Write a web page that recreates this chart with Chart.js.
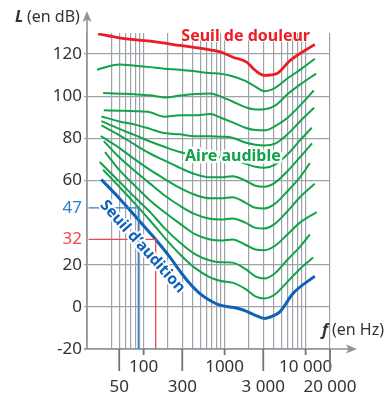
<!DOCTYPE html>
<html>
<head>
<meta charset="utf-8">
<script src="https://cdn.jsdelivr.net/npm/chart.js@4.4.1/dist/chart.umd.min.js"></script>
<style>
  html, body { margin: 0; padding: 0; background: #fff; }
  canvas { display: block; }
</style>
</head>
<body>
<canvas id="chart" width="389" height="396"></canvas>
<script>
// Courbes d'égale sensation sonore (niveau L en dB en fonction de la fréquence f en Hz)

// --- axes -------------------------------------------------------------------
const X_GRID = [20, 40, 50, 60, 70, 80, 90, 100, 200, 300, 400, 500, 600, 700, 800, 900,
                1000, 2000, 3000, 4000, 5000, 6000, 7000, 8000, 9000, 10000, 20000];
const X_TOP_TICKS = [100, 1000, 10000];
const X_TOP_TEXT = ["100", "1000", "10 000"];
const X_BOTTOM_TICKS = [50, 300, 3000, 20000];
const X_BOTTOM_TEXT = ["50", "300", "3 000", "20 000"];
const Y_GRID = [-20, -10, 0, 10, 20, 30, 40, 50, 60, 70, 80, 90, 100, 110, 120, 130];
const Y_LABELED = [-20, 0, 20, 40, 60, 80, 100, 120];

// --- seuil de douleur (rouge) -------------------------------------------------
const PAIN_FREQS = [27.4, 50, 120, 280, 660, 900, 1270, 1870, 2400, 3100, 4400, 6400, 13000];
const PAIN_LEVELS = [129.6, 127.7, 126.1, 124.1, 122.0, 120.9, 118.5, 116.2, 112.2, 109.9, 110.7, 116.9, 124.6];

// --- seuil d'audition (bleu) --------------------------------------------------
const HEARING_FREQS = [30, 50, 78, 120, 141, 210, 300, 372, 495, 660, 875, 1300, 1700, 2400, 3100, 4000, 4800, 7000, 13000];
const HEARING_LEVELS = [60.5, 51.6, 43.2, 35.1, 32.0, 23.7, 15.5, 11.1, 6.3, 3.0, 0.8, -0.3, -1.5, -4.0, -5.5, -4.2, -2.4, 6.4, 14.6];

// --- courbes vertes (aire audible), de haut en bas ----------------------------
// premier point = GREEN_START_FREQS[i], dernier = GREEN_END_FREQS[i], entre les deux GREEN_FREQS
const GREEN_FREQS = [50, 78, 120, 180, 280, 430, 660, 900, 1250, 1800, 2400, 3100, 4200, 6000, 8500];
const GREEN_START_FREQS = [26.6, 31.6, 32.2, 30.1, 30.1, 30.1, 29.5, 32.2, 33.4, 28.7, 31.6];
const GREEN_END_FREQS = [13000, 13500, 12600, 12700, 11900, 12000, 11300, 13000, 13700, 11300, 12400];
const L110 = [112.6, 115.1, 114.5, 113.8, 113.0, 112.6, 111.8, 111.0, 110.6, 109.5, 107.3, 104.5, 102.4, 104.0, 108.5, 112.5, 117.8];
const L100 = [101.5, 101.2, 100.9, 100.4, 99.4, 100.3, 101.0, 101.3, 99.8, 97.5, 94.8, 93.7, 93.8, 95.5, 101.0, 105.5, 110.7];
const L90 = [93.3, 93.1, 92.9, 92.4, 90.3, 90.9, 90.9, 91.5, 89.8, 87.6, 85.0, 83.9, 83.8, 85.8, 89.8, 95.5, 102.7];
const L80 = [90.4, 88.0, 86.5, 84.5, 82.5, 81.9, 81.0, 81.0, 80.8, 80.3, 78.0, 77.0, 76.6, 77.5, 82.0, 88.0, 94.5];
const L70 = [88.2, 84.5, 81.5, 78.5, 76.0, 73.5, 71.8, 71.0, 71.0, 70.5, 68.0, 66.5, 66.0, 67.5, 72.5, 79.0, 85.0];
const L60 = [86.2, 81.5, 77.0, 72.8, 69.5, 66.0, 63.0, 61.5, 61.5, 62.0, 60.0, 57.5, 57.0, 59.0, 64.5, 71.0, 77.6];
const L50 = [81.1, 75.5, 70.0, 65.0, 60.8, 56.5, 53.2, 51.5, 51.5, 52.0, 49.5, 47.0, 46.7, 49.0, 55.0, 61.5, 68.2];
const L40 = [78.7, 71.0, 64.5, 58.5, 53.0, 48.0, 44.0, 41.8, 41.5, 42.0, 40.0, 37.5, 37.2, 39.5, 45.5, 52.0, 58.5];
const L30 = [73.5, 65.0, 57.5, 50.5, 45.0, 39.5, 34.5, 32.0, 31.5, 32.0, 29.5, 27.2, 26.9, 29.0, 34.5, 40.0, 45.0];
const L20 = [68.8, 59.5, 52.0, 45.0, 37.5, 30.5, 25.0, 22.0, 21.2, 21.0, 18.0, 14.5, 13.5, 16.0, 22.5, 28.5, 34.4];
const L10 = [65.1, 57.0, 49.0, 41.0, 33.0, 25.0, 18.5, 14.0, 12.3, 11.5, 8.5, 5.0, 4.0, 6.0, 12.0, 18.0, 23.4];
const GREEN_LEVELS = [L110, L100, L90, L80, L70, L60, L50, L40, L30, L20, L10];

// --- lectures : 47 dB (bleu) et 32 dB (rouge) ---------------------------------
const READ_BLUE = { f: 86, L: 47 };
const READ_RED = { f: 141, L: 32 };

const GRID_COLOR = "#9ea3a9";
const AXIS_COLOR = "#8e959c";
const TEXT_COLOR = "#333333";
const RED = "#ec1c24";
const GREEN = "#12a24b";
const BLUE = "#0f62b8";
const READ_BLUE_COLOR = "#2b7fd0";
const READ_RED_COLOR = "#f04652";
const FONT = "'Noto Sans', 'Open Sans', sans-serif";

Chart.defaults.font.family = FONT;

function curve(freqs, levels, color, width) {
    return {
        data: freqs.map((f, i) => ({ x: f, y: levels[i] })),
        borderColor: color,
        borderWidth: width,
        pointRadius: 0,
        cubicInterpolationMode: "monotone",
        fill: false,
    };
}

function readingLine(r, color) {
    return {
        data: [{ x: 20.9, y: r.L }, { x: r.f, y: r.L }, { x: r.f, y: -20 }],
        borderColor: color,
        borderWidth: 1.3,
        pointRadius: 0,
        tension: 0,
        fill: false,
    };
}

const datasets = [
    readingLine(READ_BLUE, READ_BLUE_COLOR),
    readingLine(READ_RED, READ_RED_COLOR),
    ...GREEN_LEVELS.map((levels, i) =>
        curve([GREEN_START_FREQS[i], ...GREEN_FREQS, GREEN_END_FREQS[i]], levels, GREEN, 2)),
    curve(PAIN_FREQS, PAIN_LEVELS, RED, 2.8),
    curve(HEARING_FREQS, HEARING_LEVELS, BLUE, 3),
];

// Axis lines with arrows, and the long / short tick marks under the frequency axis.
const axesPlugin = {
    id: "axes",
    beforeDatasetsDraw(chart) {
        const { ctx, chartArea: a, scales: { x } } = chart;
        ctx.save();
        ctx.strokeStyle = AXIS_COLOR;
        ctx.fillStyle = AXIS_COLOR;
        ctx.lineWidth = 1.6;
        ctx.beginPath();
        ctx.moveTo(a.left, a.bottom);
        ctx.lineTo(a.left, 19);
        ctx.moveTo(a.left - 3, a.bottom);
        ctx.lineTo(349, a.bottom);
        ctx.stroke();
        // arrow heads
        ctx.beginPath();
        ctx.moveTo(a.left, 11);
        ctx.lineTo(a.left + 4.5, 22);
        ctx.lineTo(a.left, 19.5);
        ctx.lineTo(a.left - 4.5, 22);
        ctx.closePath();
        ctx.fill();
        ctx.beginPath();
        ctx.moveTo(357, a.bottom);
        ctx.lineTo(346, a.bottom - 4.5);
        ctx.lineTo(348.5, a.bottom);
        ctx.lineTo(346, a.bottom + 4.5);
        ctx.closePath();
        ctx.fill();
        // ticks under the axis
        ctx.strokeStyle = "#707479";
        ctx.lineWidth = 1.8;
        ctx.beginPath();
        X_BOTTOM_TICKS.forEach((v) => {
            const px = x.getPixelForValue(v);
            ctx.moveTo(px, a.bottom);
            ctx.lineTo(px, a.bottom + 22);
        });
        X_TOP_TICKS.forEach((v) => {
            const px = x.getPixelForValue(v);
            ctx.moveTo(px, a.bottom);
            ctx.lineTo(px, a.bottom + 6);
        });
        ctx.stroke();
        ctx.restore();
    },
};

function haloText(ctx, text, px, py, color, font, angle, halo) {
    ctx.save();
    ctx.translate(px, py);
    ctx.rotate(angle || 0);
    ctx.font = font;
    ctx.textAlign = "center";
    ctx.textBaseline = "middle";
    ctx.lineJoin = "round";
    ctx.strokeStyle = "rgba(255,255,255,0.95)";
    ctx.lineWidth = halo;
    ctx.strokeText(text, 0, 0);
    ctx.fillStyle = color;
    ctx.fillText(text, 0, 0);
    ctx.restore();
}

// Curve names and axis titles.
const labelsPlugin = {
    id: "labels",
    afterDatasetsDraw(chart) {
        const { ctx, scales: { x, y } } = chart;
        haloText(ctx, "Seuil de douleur", x.getPixelForValue(1820), y.getPixelForValue(128.3),
            RED, `bold 16px ${FONT}`, 0, 2);
        haloText(ctx, "Aire audible", x.getPixelForValue(1265), y.getPixelForValue(71.4),
            GREEN, `bold 16px ${FONT}`, 0, 5);
        haloText(ctx, "Seuil d\u2019audition", x.getPixelForValue(97), y.getPixelForValue(28.6),
            BLUE, `bold 15.5px ${FONT}`, 48 * Math.PI / 180, 4);

        ctx.save();
        ctx.fillStyle = TEXT_COLOR;
        ctx.textBaseline = "alphabetic";
        ctx.textAlign = "left";
        ctx.font = `italic bold 16px ${FONT}`;
        ctx.fillText("L", 15, 22);
        ctx.fillText("f", 322, 335);
        ctx.font = `16px ${FONT}`;
        ctx.fillText("(en dB)", 27, 22);
        ctx.fillText("(en Hz)", 332, 335);
        ctx.restore();
    },
};

new Chart(document.getElementById("chart"), {
    type: "line",
    data: { datasets },
    options: {
        responsive: false,
        animation: false,
        layout: { padding: { top: 33, right: 59, left: 0, bottom: 0 } },
        plugins: { legend: { display: false }, tooltip: { enabled: false } },
        scales: {
            x: {
                type: "logarithmic",
                min: 20,
                max: 20000,
                afterFit: (scale) => { scale.height = 47; },
                afterBuildTicks: (scale) => { scale.ticks = X_GRID.map((v) => ({ value: v })); },
                border: { display: false },
                grid: { color: GRID_COLOR, lineWidth: 1.2, drawTicks: false },
                ticks: {
                    autoSkip: false,
                    maxRotation: 0,
                    padding: 8,
                    color: TEXT_COLOR,
                    font: { size: 17, lineHeight: 1.18 },
                    callback: (v) => {
                        const top = X_TOP_TICKS.indexOf(v);
                        if (top >= 0) return X_TOP_TEXT[top];
                        const bottom = X_BOTTOM_TICKS.indexOf(v);
                        if (bottom >= 0) return ["", X_BOTTOM_TEXT[bottom]];
                        return "";
                    },
                },
            },
            y: {
                type: "linear",
                min: -20,
                max: 130,
                afterFit: (scale) => { scale.width = 87; },
                afterBuildTicks: (scale) => {
                    scale.ticks = [...Y_GRID, READ_RED.L, READ_BLUE.L]
                        .sort((a, b) => a - b)
                        .map((v) => ({ value: v }));
                },
                border: { display: false },
                grid: {
                    color: (c) => (c.tick && (c.tick.value === READ_RED.L || c.tick.value === READ_BLUE.L) ? "rgba(0,0,0,0)" : GRID_COLOR),
                    tickColor: (c) => (c.tick && (c.tick.value === READ_RED.L || c.tick.value === READ_BLUE.L) ? "rgba(0,0,0,0)" : GRID_COLOR),
                    lineWidth: 1.2,
                    tickLength: 3,
                },
                ticks: {
                    padding: 2,
                    font: { size: 17 },
                    color: (c) => (c.tick.value === READ_BLUE.L ? READ_BLUE_COLOR : c.tick.value === READ_RED.L ? READ_RED_COLOR : TEXT_COLOR),
                    callback: (v) => (Y_LABELED.includes(v) || v === READ_RED.L || v === READ_BLUE.L ? String(v) : ""),
                },
            },
        },
    },
    plugins: [axesPlugin, labelsPlugin],
});
</script>
</body>
</html>
